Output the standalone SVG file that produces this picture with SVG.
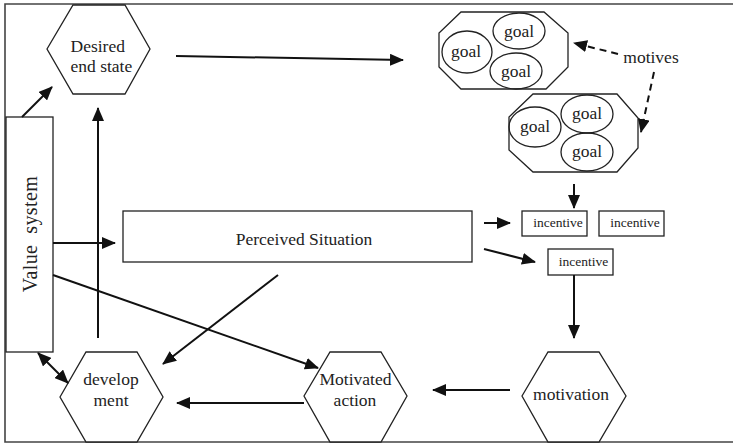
<svg xmlns="http://www.w3.org/2000/svg" width="733" height="443" viewBox="0 0 733 443">
<style>
.shape{fill:#fff;stroke:#222;stroke-width:1.3}
.ell{fill:none;stroke:#222;stroke-width:1.3}
text{font-family:"Liberation Serif","DejaVu Serif",serif;fill:#222}
.t{font-size:17.5px;text-anchor:middle}
.l{font-size:17.5px;text-anchor:start}
.s{font-size:13.5px;text-anchor:middle}
.c{fill:none;stroke:#111;stroke-width:2}
.d{fill:none;stroke:#111;stroke-width:2;stroke-dasharray:7,5}
</style>
<defs>
<marker id="ah" markerUnits="userSpaceOnUse" markerWidth="14" markerHeight="12" viewBox="0 0 14 12" refX="13" refY="6" orient="auto">
<path d="M0,0 L14,6 L0,12 z" fill="#111"/>
</marker>
<marker id="as" markerUnits="userSpaceOnUse" markerWidth="14" markerHeight="12" viewBox="0 0 14 12" refX="1" refY="6" orient="auto">
<path d="M14,0 L0,6 L14,12 z" fill="#111"/>
</marker>
</defs>
<rect width="733" height="443" fill="#fff"/>
<path d="M740,4 H5 V442 H740" fill="none" stroke="#444" stroke-width="1.6"/>

<g id="desired-end-state">
<polygon class="shape" points="47,49 73,5 125,5 150,49 125,94 73,94"/>
<text class="l" x="70.5" y="52">Desired</text>
<text class="l" x="70.5" y="72">end state</text>
</g>

<g id="value-system">
<rect class="shape" x="6" y="117" width="47" height="235"/>
<text class="t" transform="translate(37,234) rotate(-90)" style="font-size:20px;letter-spacing:0.4px" xml:space="preserve">Value  system</text>
</g>

<g id="goals-1">
<polygon class="shape" points="461,12 544,12 568,33 568,67 546,89 461,89 439,67 439,33"/>
<ellipse class="ell" cx="467" cy="52" rx="25" ry="21"/>
<ellipse class="ell" cx="519" cy="31" rx="26" ry="18"/>
<ellipse class="ell" cx="516" cy="71" rx="26" ry="18"/>
<text class="t" x="466" y="57">goal</text>
<text class="t" x="519" y="37">goal</text>
<text class="t" x="516" y="77">goal</text>
</g>

<g id="goals-2">
<polygon class="shape" points="533,94 617,94 638,118 638,148 617,172 533,172 509,150 509,117"/>
<ellipse class="ell" cx="535" cy="127" rx="26" ry="20"/>
<ellipse class="ell" cx="587" cy="114" rx="26" ry="19"/>
<ellipse class="ell" cx="587" cy="152" rx="26" ry="19"/>
<text class="t" x="535" y="132">goal</text>
<text class="t" x="587" y="119">goal</text>
<text class="t" x="587" y="157">goal</text>
</g>

<g id="motives">
<text class="t" x="651" y="63">motives</text>
</g>

<g id="perceived-situation">
<rect class="shape" x="123" y="211" width="349" height="51"/>
<text class="t" x="304" y="245">Perceived Situation</text>
</g>

<g id="incentive-1">
<rect class="shape" x="522" y="211" width="65" height="25"/>
<text class="s" x="558" y="227">incentive</text>
</g>
<g id="incentive-2">
<rect class="shape" x="599" y="211" width="65" height="25"/>
<text class="s" x="635" y="227">incentive</text>
</g>
<g id="incentive-3">
<rect class="shape" x="548" y="249" width="65" height="26"/>
<text class="s" x="583.5" y="266">incentive</text>
</g>

<g id="motivation">
<polygon class="shape" points="522,396 548,352 599,352 626,396 599,442 548,442"/>
<text class="t" x="571" y="400">motivation</text>
</g>

<g id="motivated-action">
<polygon class="shape" points="304,396 330,352 381,352 407,396 381,442 330,442"/>
<text class="t" x="355.5" y="385">Motivated</text>
<text class="t" x="355" y="406">action</text>
</g>

<g id="development">
<polygon class="shape" points="60,397 86,352 137,352 163,397 137,442 86,442"/>
<text class="t" x="111" y="385">develop</text>
<text class="t" x="111" y="406">ment</text>
</g>

<g id="connectors">
<line class="c" x1="176" y1="56" x2="403" y2="60" marker-end="url(#ah)"/>
<line class="d" x1="618" y1="54" x2="574" y2="43" marker-end="url(#ah)"/>
<line class="d" x1="654" y1="72" x2="641" y2="132" marker-end="url(#ah)"/>
<line class="c" x1="574" y1="184" x2="574" y2="208" marker-end="url(#ah)"/>
<line class="c" x1="484" y1="223" x2="510" y2="223" marker-end="url(#ah)"/>
<line class="c" x1="484" y1="249" x2="535" y2="262" marker-end="url(#ah)"/>
<line class="c" x1="574" y1="275" x2="574" y2="338" marker-end="url(#ah)"/>
<line class="c" x1="510" y1="390" x2="433" y2="390" marker-end="url(#ah)"/>
<line class="c" x1="304" y1="403" x2="177" y2="403" marker-end="url(#ah)"/>
<line class="c" x1="38" y1="353" x2="68" y2="383" marker-start="url(#as)" marker-end="url(#ah)"/>
<line class="c" x1="22" y1="117" x2="52" y2="87" marker-end="url(#ah)"/>
<line class="c" x1="98" y1="338" x2="98" y2="108" marker-end="url(#ah)"/>
<line class="c" x1="53" y1="243" x2="115" y2="243" marker-end="url(#ah)"/>
<line class="c" x1="53" y1="275" x2="318" y2="368" marker-end="url(#ah)"/>
<line class="c" x1="278" y1="275" x2="163" y2="364" marker-end="url(#ah)"/>
</g>
</svg>
